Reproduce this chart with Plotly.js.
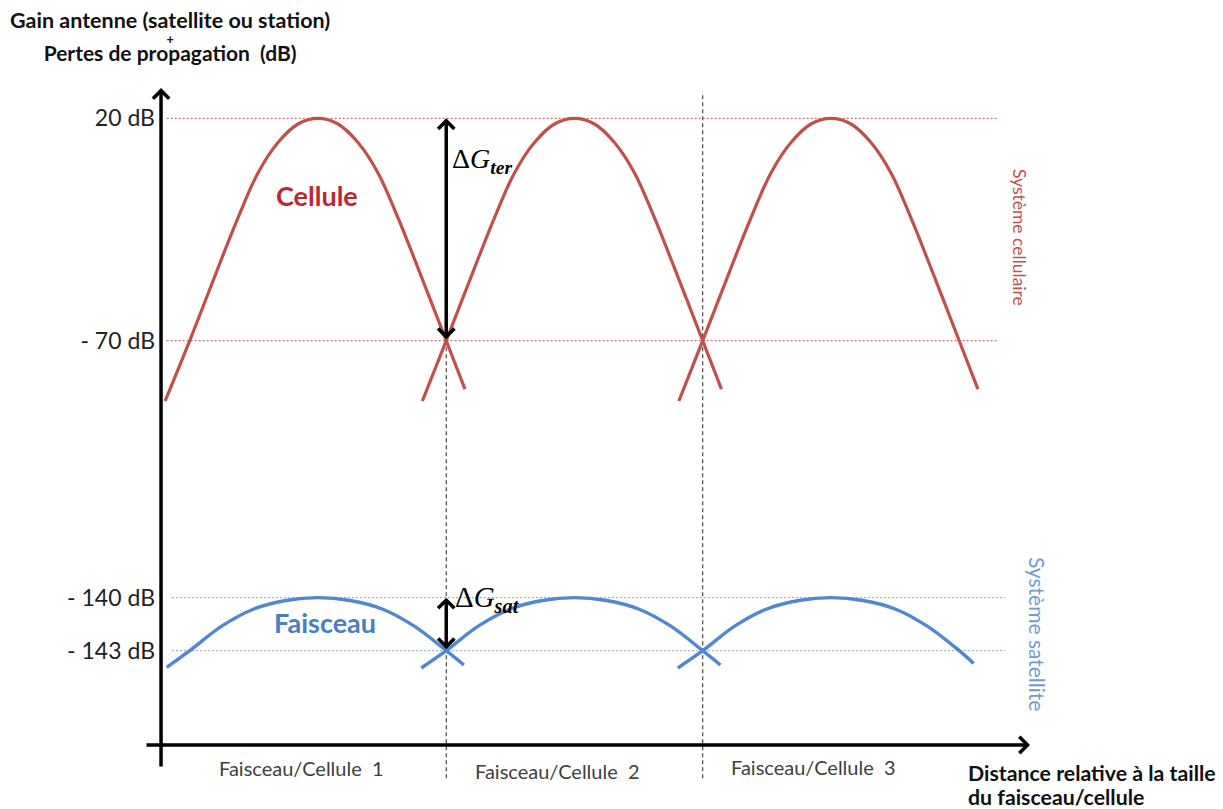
<!DOCTYPE html>
<html>
<head>
<meta charset="utf-8">
<script src="https://cdn.plot.ly/plotly-3.0.1.min.js"></script>
<style>html,body{margin:0;padding:0;background:#fff;}#chart{width:1223px;height:809px;}</style>
</head>
<body>
<div id="chart"></div>
<script>
// ---- Data ----
const cellCenters = [1, 2, 3];
const cellLabels = ['Faisceau/Cellule  1', 'Faisceau/Cellule  2', 'Faisceau/Cellule  3'];
const cellBoundaries = [1.5, 2.5];

const cellRefLevels = [20, -70];
const cellRefLabels = ['20 dB', '- 70 dB'];
const satRefLevels = [-140, -143];
const satRefLabels = ['- 140 dB', '- 143 dB'];

// Cellular system (terrestrial) gain + losses, dB
const cell1X = [0.404, 0.5, 0.61, 0.688, 0.766, 0.844, 0.922, 1.0, 1.078, 1.156, 1.234, 1.312, 1.39, 1.5, 1.573];
const cell1Y = [-94.4, -70, -40.6, -20.3, -2.1, 10.2, 17.7, 20, 17.7, 10.2, -2.1, -20.3, -40.6, -70, -89.6];
const cell2X = [1.407, 1.5, 1.61, 1.688, 1.766, 1.844, 1.922, 2.0, 2.078, 2.156, 2.234, 2.312, 2.39, 2.5, 2.573];
const cell2Y = [-94.4, -70, -40.6, -20.3, -2.1, 10.2, 17.7, 20, 17.7, 10.2, -2.1, -20.3, -40.6, -70, -89.6];
const cell3X = [2.407, 2.5, 2.61, 2.688, 2.766, 2.844, 2.922, 3.0, 3.078, 3.156, 3.234, 3.312, 3.39, 3.5, 3.573];
const cell3Y = [-94.4, -70, -40.6, -20.3, -2.1, 10.2, 17.7, 20, 17.7, 10.2, -2.1, -20.3, -40.6, -70, -89.6];

// Satellite system gain + losses, dB
const sat1X = [0.41, 0.5, 0.626, 0.75, 0.875, 1.0, 1.125, 1.25, 1.374, 1.5, 1.569];
const sat1Y = [-143.95, -143.0, -141.6, -140.64, -140.16, -140, -140.16, -140.64, -141.6, -143.0, -143.81];
const sat2X = [1.403, 1.5, 1.626, 1.75, 1.875, 2.0, 2.125, 2.25, 2.374, 2.5, 2.569];
const sat2Y = [-143.98, -143.0, -141.6, -140.64, -140.16, -140, -140.16, -140.64, -141.6, -143.0, -143.81];
const sat3X = [2.403, 2.5, 2.626, 2.75, 2.875, 3.0, 3.125, 3.25, 3.374, 3.5, 3.556];
const sat3Y = [-143.98, -143.0, -141.6, -140.64, -140.16, -140, -140.16, -140.64, -141.6, -143.0, -143.72];

// ---- Styles ----
const RED = '#c0504d';
const BLUE = '#4f87d2';
const FONT = 'Lato, "Open Sans", sans-serif';

const redLine = {color: RED, width: 3.2, shape: 'spline', smoothing: 1};
const blueLine = {color: BLUE, width: 3.4, shape: 'spline', smoothing: 1};

const traces = [
  {x: cell1X, y: cell1Y, yaxis: 'y', mode: 'lines', line: redLine, hoverinfo: 'skip'},
  {x: cell2X, y: cell2Y, yaxis: 'y', mode: 'lines', line: redLine, hoverinfo: 'skip'},
  {x: cell3X, y: cell3Y, yaxis: 'y', mode: 'lines', line: redLine, hoverinfo: 'skip'},
  {x: sat1X, y: sat1Y, yaxis: 'y2', mode: 'lines', line: blueLine, hoverinfo: 'skip'},
  {x: sat2X, y: sat2Y, yaxis: 'y2', mode: 'lines', line: blueLine, hoverinfo: 'skip'},
  {x: sat3X, y: sat3Y, yaxis: 'y2', mode: 'lines', line: blueLine, hoverinfo: 'skip'}
];

const shapes = [];
cellRefLevels.forEach(v => shapes.push({type: 'line', xref: 'x', yref: 'y', x0: 0.41, x1: 3.651, y0: v, y1: v,
  line: {color: RED, width: 1, dash: '2px,2px'}, layer: 'below'}));
satRefLevels.forEach(v => shapes.push({type: 'line', xref: 'x', yref: 'y2', x0: 0.43, x1: 3.678, y0: v, y1: v,
  line: {color: '#7f9cc6', width: 1, dash: '2px,2px'}, layer: 'below'}));
cellBoundaries.forEach((b, i) => shapes.push({type: 'line', xref: 'x', yref: 'paper', x0: b, x1: b,
  y0: -0.05, y1: i === 0 ? 0.6 : 0.977, line: {color: '#222', width: 1, dash: '4px,3px'}, layer: 'below'}));

const annotations = [];
// axis arrows
annotations.push({xref: 'paper', yref: 'paper', x: 0.0012, y: 0.988, ax: 0, ay: 680, axref: 'pixel', ayref: 'pixel',
  text: '', showarrow: true, arrowhead: 4, arrowsize: 0.9, arrowwidth: 3.5, arrowcolor: '#000'});
annotations.push({xref: 'paper', yref: 'paper', x: 1.0, y: 0, ax: -885, ay: 0, axref: 'pixel', ayref: 'pixel',
  text: '', showarrow: true, arrowhead: 4, arrowsize: 0.9, arrowwidth: 3.5, arrowcolor: '#000'});
// Delta G arrows
annotations.push({xref: 'x', yref: 'y', x: cellBoundaries[0], y: cellRefLevels[0], axref: 'x', ayref: 'y',
  ax: cellBoundaries[0], ay: cellRefLevels[1], text: '', showarrow: true, arrowside: 'end+start',
  arrowhead: 4, startarrowhead: 4, arrowsize: 0.9, startarrowsize: 0.9, arrowwidth: 3.5, arrowcolor: '#000'});
annotations.push({xref: 'x', yref: 'y2', x: cellBoundaries[0], y: satRefLevels[0], axref: 'x', ayref: 'y2',
  ax: cellBoundaries[0], ay: satRefLevels[1], text: '', showarrow: true, arrowside: 'end+start',
  arrowhead: 4, startarrowhead: 4, arrowsize: 0.9, startarrowsize: 0.9, arrowwidth: 3.5, arrowcolor: '#000'});
annotations.push({xref: 'x', yref: 'y', x: cellBoundaries[0], y: 3.1, xshift: 4, xanchor: 'left', yanchor: 'middle',
  showarrow: false, text: 'Δ<i>G</i><sub><b><i>ter</i></b></sub>',
  font: {family: '"Liberation Serif", "DejaVu Serif", serif', size: 28, color: '#000'}});
annotations.push({xref: 'x', yref: 'y2', x: cellBoundaries[0], y: -140.1, xshift: 7, xanchor: 'left', yanchor: 'middle',
  showarrow: false, text: 'Δ<i>G</i><sub><b><i>sat</i></b></sub>',
  font: {family: '"Liberation Serif", "DejaVu Serif", serif', size: 29, color: '#000'}});
// series labels
annotations.push({xref: 'x', yref: 'y', x: 0.996, y: -11.4, xanchor: 'center', yanchor: 'middle', showarrow: false,
  text: '<b>Cellule</b>', font: {family: FONT, size: 27, color: '#c0262d'}});
annotations.push({xref: 'x', yref: 'y2', x: 1.027, y: -141.38, xanchor: 'center', yanchor: 'middle', showarrow: false,
  text: '<b>Faisceau</b>', font: {family: FONT, size: 27, color: '#4a7ebf'}});
annotations.push({xref: 'paper', yref: 'paper', x: 0.9885, y: 0.7624, xanchor: 'center', yanchor: 'middle',
  showarrow: false, textangle: 90, text: 'Système cellulaire', font: {family: FONT, size: 17.5, color: '#c0504d'}});
annotations.push({xref: 'paper', yref: 'paper', x: 1.0092, y: 0.1669, xanchor: 'center', yanchor: 'middle',
  showarrow: false, textangle: 90, text: 'Système satellite', font: {family: FONT, size: 21, color: '#6f9bd1'}});
// cell labels under the x axis
const cellLabelY = [-0.0346, -0.039, -0.033];
cellCenters.forEach((c, i) => annotations.push({xref: 'x', yref: 'paper', x: c, xshift: -17, y: cellLabelY[i],
  xanchor: 'center', yanchor: 'middle', showarrow: false, text: cellLabels[i],
  font: {family: FONT, size: 20, color: '#404040'}}));
// y-axis title (three lines in one block: title, "+", second line)
annotations.push({xref: 'paper', yref: 'paper', x: 0.0115, y: 1.0661, xanchor: 'center', yanchor: 'middle',
  showarrow: false, align: 'center',
  text: '<b><span style="font-size:21.5px">Gain antenne (satellite ou station)</span></b><br><b>+</b><br>' +
        '<b><span style="font-size:21px">Pertes de propagation  (dB)</span></b>',
  font: {family: FONT, size: 12.5, color: '#111'}});
// x-axis title
annotations.push({xref: 'paper', yref: 'paper', x: 0.9264, y: -0.0421, xanchor: 'left', yanchor: 'middle', showarrow: false,
  text: '<b>Distance relative à la taille</b>', font: {family: FONT, size: 21.3, color: '#111'}});
annotations.push({xref: 'paper', yref: 'paper', x: 0.9264, y: -0.0782, xanchor: 'left', yanchor: 'middle', showarrow: false,
  text: '<b>du faisceau/cellule</b>', font: {family: FONT, size: 21.3, color: '#111'}});

const layout = {
  width: 1223, height: 809,
  margin: {l: 160, r: 193, t: 80, b: 64},
  paper_bgcolor: '#fff', plot_bgcolor: '#fff',
  showlegend: false,
  xaxis: {range: [0.384, 3.776], showgrid: false, zeroline: false, showline: false, showticklabels: false, ticks: ''},
  yaxis: {range: [-233.6, 35.5], tickvals: cellRefLevels, ticktext: cellRefLabels, showgrid: false, zeroline: false,
    showline: false, ticks: '', ticklabelstandoff: 4, tickfont: {family: FONT, size: 23, color: '#222'}},
  yaxis2: {range: [-148.34, -110.7], overlaying: 'y', side: 'left', anchor: 'x', tickvals: satRefLevels, ticktext: satRefLabels,
    showgrid: false, zeroline: false, showline: false, ticks: '', ticklabelstandoff: 4, tickfont: {family: FONT, size: 23, color: '#222'}},
  shapes: shapes,
  annotations: annotations
};

Plotly.newPlot('chart', traces, layout, {staticPlot: true, displayModeBar: false});
</script>
</body>
</html>
